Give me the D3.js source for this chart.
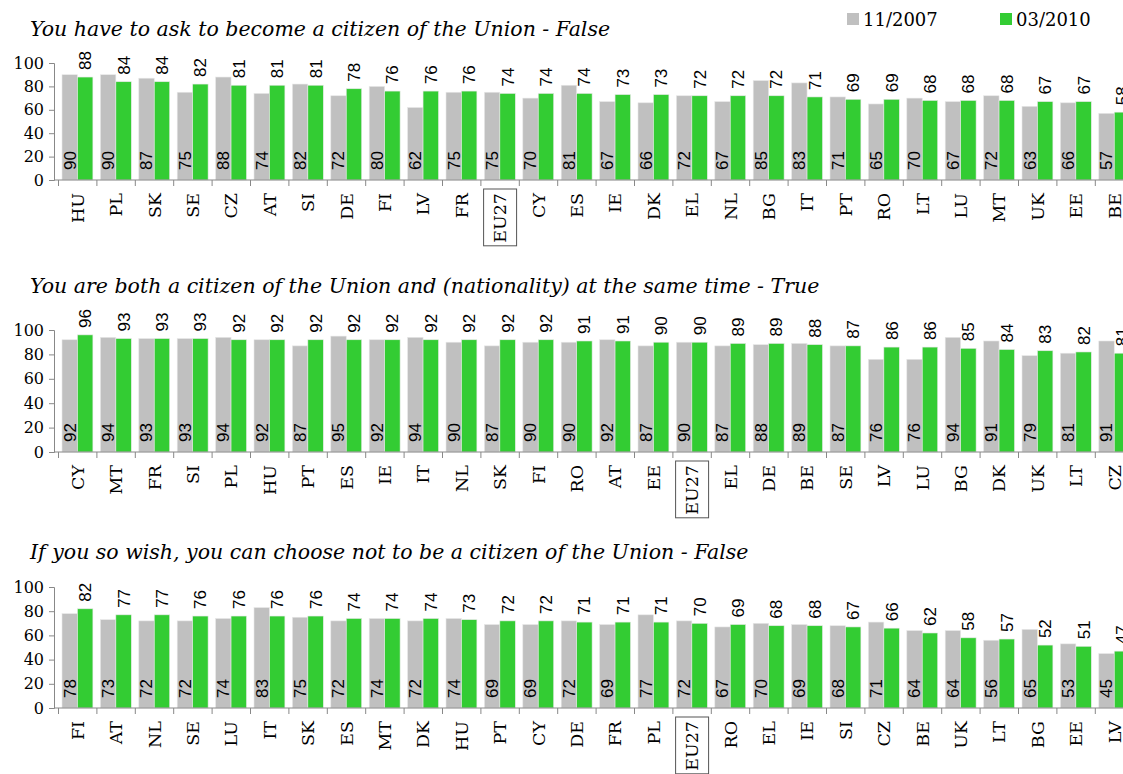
<!DOCTYPE html>
<meta charset="utf-8">
<style>
  body { margin: 0; background: #fff; }
  .title { font-family: Georgia, "DejaVu Serif", serif; font-style: italic; font-size: 20.5px; }
  .legend { font-family: Georgia, "DejaVu Serif", serif; font-size: 18px; }
  .ytick text { font-family: Georgia, "DejaVu Serif", serif; font-size: 16px; }
  .cat { font-family: Georgia, "DejaVu Serif", serif; font-size: 17.5px; }
  .val { font-family: "Liberation Sans", Arial, sans-serif; font-size: 17px; }
</style>
<script src="https://d3js.org/d3.v7.min.js"></script>
<div id="chart"></div>
<script>

// series names
var seriesNames = ["11/2007", "03/2010"];

// panel 1
var title1 = "You have to ask to become a citizen of the Union - False";
var cats1 = ["HU","PL","SK","SE","CZ","AT","SI","DE","FI","LV","FR","EU27","CY","ES","IE","DK","EL","NL","BG","IT","PT","RO","LT","LU","MT","UK","EE","BE"];
var v2007_1 = [90,90,87,75,88,74,82,72,80,62,75,75,70,81,67,66,72,67,85,83,71,65,70,67,72,63,66,57];
var v2010_1 = [88,84,84,82,81,81,81,78,76,76,76,74,74,74,73,73,72,72,72,71,69,69,68,68,68,67,67,58];

// panel 2
var title2 = "You are both a citizen of the Union and (nationality) at the same time - True";
var cats2 = ["CY","MT","FR","SI","PL","HU","PT","ES","IE","IT","NL","SK","FI","RO","AT","EE","EU27","EL","DE","BE","SE","LV","LU","BG","DK","UK","LT","CZ"];
var v2007_2 = [92,94,93,93,94,92,87,95,92,94,90,87,90,90,92,87,90,87,88,89,87,76,76,94,91,79,81,91];
var v2010_2 = [96,93,93,93,92,92,92,92,92,92,92,92,92,91,91,90,90,89,89,88,87,86,86,85,84,83,82,81];

// panel 3
var title3 = "If you so wish, you can choose not to be a citizen of the Union - False";
var cats3 = ["FI","AT","NL","SE","LU","IT","SK","ES","MT","DK","HU","PT","CY","DE","FR","PL","EU27","RO","EL","IE","SI","CZ","BE","UK","LT","BG","EE","LV"];
var v2007_3 = [78,73,72,72,74,83,75,72,74,72,74,69,69,72,69,77,72,67,70,69,68,71,64,64,56,65,53,45];
var v2010_3 = [82,77,77,76,76,76,76,74,74,74,73,72,72,71,71,71,70,69,68,68,67,66,62,58,57,52,51,47];

var yTicks = [0, 20, 40, 60, 80, 100];
var colors = ["#c0c0c0", "#33cc33"];

var W = 1123, H = 774;
var svg = d3.select("#chart").append("svg")
    .attr("width", W).attr("height", H);

// y axis sits a bit left of the first category
var axisX = 54, left = 58.5, right = 58.5 + 28 * 38.4;

// legend
var leg = svg.append("g");
seriesNames.forEach(function(s, i) {
  var lx = i == 0 ? 847 : 1000;
  leg.append("rect").attr("x", lx).attr("y", 13).attr("width", 12).attr("height", 12).attr("fill", colors[i]);
  leg.append("text").attr("class", "legend").attr("x", lx + 16).attr("y", 26).text(s);
});

function panel(title, cats, a, b, titleY, top, bottom) {
  var g = svg.append("g");

  g.append("text").attr("class", "title").attr("x", 30).attr("y", titleY).text(title);

  var x0 = d3.scaleBand().domain(cats).range([left, right]).padding(0);
  var x1 = d3.scaleBand().domain(seriesNames).range([3.5, x0.bandwidth() - 4]).padding(0);
  var y = d3.scaleLinear().domain([0, 100]).range([bottom, top]);

  var rows = cats.map(function(c, i) { return {cat: c, vals: [a[i], b[i]]}; });

  var grp = g.selectAll(".grp").data(rows).enter().append("g")
      .attr("transform", function(d) { return "translate(" + x0(d.cat) + ",0)"; });

  grp.selectAll("rect").data(function(d) {
      return d.vals.map(function(v, i) { return {s: seriesNames[i], v: v, i: i}; });
    }).enter().append("rect")
      .attr("x", function(d) { return x1(d.s); })
      .attr("y", function(d) { return y(d.v); })
      .attr("width", x1.bandwidth())
      .attr("height", function(d) { return bottom - y(d.v); })
      .attr("fill", function(d) { return colors[d.i]; })
      .attr("stroke", "#e8e8e8").attr("stroke-width", 0.6);

  // grey values at the bottom of the bar
  grp.append("text").attr("class", "val")
      .attr("transform", function(d) {
        return "translate(" + (x1(seriesNames[0]) + x1.bandwidth() / 2) + "," + (bottom - 10) + ") rotate(-90)";
      })
      .attr("dy", "0.35em")
      .text(function(d) { return d.vals[0]; });

  // green values above the bar
  grp.append("text").attr("class", "val")
      .attr("transform", function(d) {
        return "translate(" + (x1(seriesNames[1]) + x1.bandwidth() / 2) + "," + (y(d.vals[1]) - 7) + ") rotate(-90)";
      })
      .attr("dy", "0.35em")
      .text(function(d) { return d.vals[1]; });

  // y axis
  var ya = g.append("g").attr("class", "ytick")
      .attr("transform", "translate(" + axisX + ",0)")
      .call(d3.axisLeft(y).tickValues(yTicks).tickSize(5).tickPadding(5));
  ya.selectAll("line, path").attr("stroke", "#888");
  ya.selectAll("text").attr("fill", "#000");

  // x axis line + ticks between categories
  g.append("line").attr("x1", axisX).attr("x2", right).attr("y1", bottom).attr("y2", bottom)
      .attr("stroke", "#888");
  g.selectAll(".xt").data(cats).enter().append("line")
      .attr("x1", function(d) { return x0(d); }).attr("x2", function(d) { return x0(d); })
      .attr("y1", bottom).attr("y2", bottom + 6).attr("stroke", "#888");

  // category labels
  var lab = g.selectAll(".cat").data(cats).enter().append("text").attr("class", "cat")
      .attr("text-anchor", "end")
      .attr("dy", "0.35em")
      .attr("transform", function(d) {
        return "translate(" + (x0(d) + x0.bandwidth() / 2) + "," + (bottom + 13) + ") rotate(-90)";
      })
      .text(function(d) { return d; });

  // box around EU27
  lab.filter(function(d) { return d == "EU27"; }).each(function(d) {
    var bb = this.getBBox();
    var cx = x0(d) + x0.bandwidth() / 2;
    g.append("rect")
      .attr("x", cx - 16.5).attr("y", bottom + 9)
      .attr("width", 33).attr("height", bb.width + 7)
      .attr("fill", "none").attr("stroke", "#555").attr("stroke-width", 1);
  });
}

panel(title1, cats1, v2007_1, v2010_1, 36, 63, 180);
panel(title2, cats2, v2007_2, v2010_2, 293, 330, 452);
panel(title3, cats3, v2007_3, v2010_3, 559, 587, 708);

</script>
